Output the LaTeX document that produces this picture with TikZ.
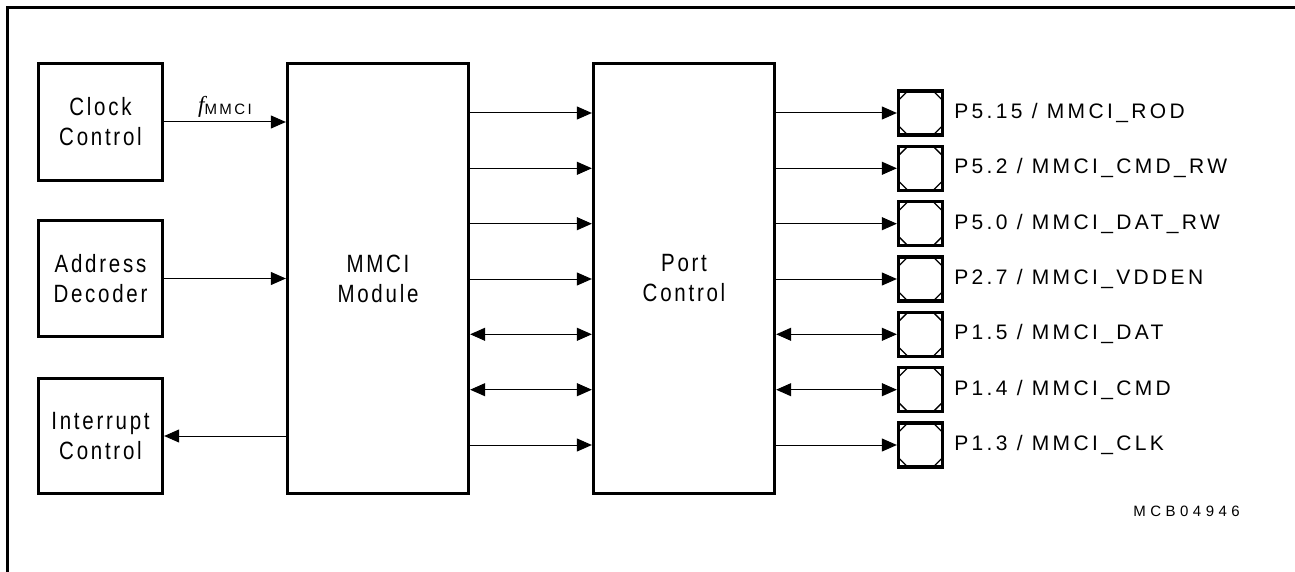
\documentclass[tikz,border=0pt]{standalone}
\usepackage{fontspec}
\setmainfont{Liberation Sans}
\newfontfamily\lsf[LetterSpace=11,FakeStretch=0.82]{Liberation Sans}
\newfontfamily\psf[LetterSpace=16]{Liberation Sans}
\newfontfamily\msf[LetterSpace=30]{Liberation Sans}
\newfontfamily\serifit{Liberation Serif}
\usetikzlibrary{arrows.meta}
\begin{document}
\begin{tikzpicture}[x=1pt,y=-1pt,
  blk/.style={draw,line width=3.3pt,inner sep=0pt,align=center,font=\lsf\fontsize{25}{30}\selectfont},
  pin/.style={draw,line width=3.3pt,minimum width=44pt,minimum height=44pt,inner sep=0pt},
  sig/.style={line width=1pt,-{Triangle[length=15pt,width=13pt]}},
  bidir/.style={line width=1pt,{Triangle[length=15pt,width=13pt]}-{Triangle[length=15pt,width=13pt]}},
  plabel/.style={anchor=west,inner sep=0pt,font=\psf\fontsize{21}{25}\selectfont},
  frame/.style={line width=2.3pt}]
\useasboundingbox (0,0) rectangle (1295,572);
\draw[frame] (7.5,572) -- (7.5,7.5) -- (1295,7.5);
% left blocks
\node[blk,minimum width=124pt,minimum height=117pt] (clk) at (100.5,122) {Clock\\Control};
\node[blk,minimum width=124pt,minimum height=116pt] (adr) at (100.5,278.5) {Address\\Decoder};
\node[blk,minimum width=124pt,minimum height=115pt] (irq) at (100.5,436) {Interrupt\\Control};
% main blocks
\node[blk,minimum width=181pt,minimum height=430pt] (mmci) at (378,278.5) {MMCI\\Module};
\node[blk,minimum width=181pt,minimum height=430pt] (port) at (684,278.5) {Port\\Control};
% pins
\foreach \i/\y in {1/113,2/168.3,3/223.7,4/279,5/334.3,6/389.7,7/445}{
  \node[pin] (p\i) at (920.5,\y) {};
  \draw[line width=1.3pt] ([xshift=1.6pt,yshift=-11pt]p\i.north west) -- ([xshift=11pt,yshift=-1.6pt]p\i.north west);
  \draw[line width=1.3pt] ([xshift=-1.6pt,yshift=-11pt]p\i.north east) -- ([xshift=-11pt,yshift=-1.6pt]p\i.north east);
  \draw[line width=1.3pt] ([xshift=1.6pt,yshift=11pt]p\i.south west) -- ([xshift=11pt,yshift=1.6pt]p\i.south west);
  \draw[line width=1.3pt] ([xshift=-1.6pt,yshift=11pt]p\i.south east) -- ([xshift=-11pt,yshift=1.6pt]p\i.south east);
}
\node[plabel] (l1) at ([xshift=10pt]p1.east) {P5.15 / MMCI\_ROD};
\node[plabel] (l2) at ([xshift=10pt]p2.east) {P5.2 / MMCI\_CMD\_RW};
\node[plabel] (l3) at ([xshift=10pt]p3.east) {P5.0 / MMCI\_DAT\_RW};
\node[plabel] (l4) at ([xshift=10pt]p4.east) {P2.7 / MMCI\_VDDEN};
\node[plabel] (l5) at ([xshift=10pt]p5.east) {P1.5 / MMCI\_DAT};
\node[plabel] (l6) at ([xshift=10pt]p6.east) {P1.4 / MMCI\_CMD};
\node[plabel] (l7) at ([xshift=10pt]p7.east) {P1.3 / MMCI\_CLK};
% left connectors
\draw[sig] (clk.east) -- (mmci.west |- clk.east) node[midway,above=4pt,inner sep=0pt] (fl) {{\fontsize{23}{23}\serifit\itshape f}\raisebox{-2pt}{\psf\fontsize{15}{15}\selectfont MMCI}};
\draw[sig] (adr.east) -- (mmci.west |- adr.east);
\draw[sig] (mmci.west |- irq.east) -- (irq.east);
% middle and right connectors
\foreach \i in {1,2,3,4,7}{
  \draw[sig] (mmci.east |- p\i.west) -- (port.west |- p\i.west);
  \draw[sig] (port.east |- p\i.west) -- (p\i.west);
}
\foreach \i in {5,6}{
  \draw[bidir] (mmci.east |- p\i.west) -- (port.west |- p\i.west);
  \draw[bidir] (port.east |- p\i.west) -- (p\i.west);
}
\node[anchor=east,inner sep=0pt,font=\msf\fontsize{15}{15}\selectfont] (mcb) at (1240,511) {MCB04946};
\end{tikzpicture}
\end{document}
